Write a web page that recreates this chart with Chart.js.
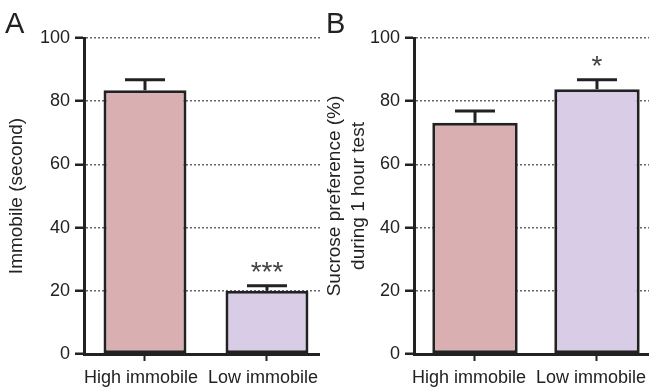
<!DOCTYPE html>
<html lang="en">
<head>
    <meta charset="UTF-8">
    <title>Immobile time and sucrose preference</title>
    <script src="https://cdn.jsdelivr.net/npm/chart.js"></script>
    <style>
        html, body { margin: 0; padding: 0; background: #fff; }
        body { width: 649px; height: 392px; overflow: hidden; position: relative;
               font-family: 'Liberation Sans', Arial, sans-serif; }
        .panel { position: absolute; top: 0; height: 392px; background: #fff; }
        .letter { position: absolute; top: 7px; font-size: 29px; color: #222; }
    </style>
</head>
<body>
    <!-- Panel A -->
    <div class="panel" id="panelA" style="left:0; width:328px;">
        <canvas id="chartA" width="328" height="392"></canvas>
    </div>
    <!-- Panel B, drawn over the right end of A -->
    <div class="panel" id="panelB" style="left:320px; width:338px;">
        <canvas id="chartB" width="338" height="392"></canvas>
    </div>
    <div class="letter" style="left:5px;">A</div>
    <div class="letter" style="left:326px;">B</div>

    <script>
        // data
        const categories = ['High immobile', 'Low immobile'];
        const yTicks = [0, 20, 40, 60, 80, 100];
        const barColors = ['#d9afb1', '#d9cce6'];

        const immobileMeans = [83.5, 20.0];
        const immobileSem = [3.3, 1.6];
        const immobileStars = ['', '***'];

        const sucroseMeans = [73.2, 83.8];
        const sucroseSem = [3.7, 3.0];
        const sucroseStars = ['', '*'];

        const ink = '#222';
        const font = 'Liberation Sans';

        // upward SEM bars + significance stars
        const errorBars = {
            id: 'errorBars',
            afterDatasetsDraw(chart, args, opts) {
                const ctx = chart.ctx;
                const x = chart.scales.x, y = chart.scales.y;
                const means = chart.data.datasets[0].data;
                ctx.save();
                ctx.strokeStyle = ink;
                ctx.lineWidth = 3;
                means.forEach((m, i) => {
                    const px = x.getPixelForValue(i);
                    const top = y.getPixelForValue(m);
                    const cap = y.getPixelForValue(m + opts.sem[i]);
                    ctx.beginPath();
                    ctx.moveTo(px, top);
                    ctx.lineTo(px, cap);
                    ctx.moveTo(px - 20, cap);
                    ctx.lineTo(px + 20, cap);
                    ctx.stroke();
                    if (opts.stars[i]) {
                        ctx.fillStyle = '#444';
                        ctx.font = '28px ' + font;
                        ctx.textAlign = 'center';
                        ctx.textBaseline = 'alphabetic';
                        ctx.fillText(opts.stars[i], px, cap - 5);
                    }
                });
                ctx.restore();
            }
        };

        function makeChart(id, means, sem, stars, title, axisX, barPct, labelShift, titlePad) {
            return new Chart(document.getElementById(id), {
                type: 'bar',
                data: {
                    labels: categories,
                    datasets: [{
                        data: means,
                        backgroundColor: barColors,
                        borderColor: ink,
                        borderWidth: 3,
                        borderSkipped: false,
                        barPercentage: barPct,
                        categoryPercentage: 1
                    }]
                },
                options: {
                    responsive: false,
                    animation: false,
                    devicePixelRatio: 1,
                    layout: { padding: { top: 38, right: 0, left: 0, bottom: 0 } },
                    plugins: {
                        legend: { display: false },
                        tooltip: { enabled: false },
                        errorBars: { sem: sem, stars: stars }
                    },
                    scales: {
                        x: {
                            afterFit(s) { s.height = 38; },
                            grid: {
                                display: true, drawOnChartArea: false, offset: false,
                                tickLength: 7, tickColor: ink, tickWidth: 2
                            },
                            border: { color: ink, width: 3 },
                            ticks: {
                                color: ink, padding: 6, labelOffset: labelShift,
                                font: { family: font, size: 18 }
                            }
                        },
                        y: {
                            min: 0, max: 100,
                            afterFit(s) { s.width = axisX; },
                            afterBuildTicks(s) { s.ticks = yTicks.map(v => ({ value: v })); },
                            grid: {
                                color: '#666', lineWidth: 1.5,
                                tickLength: 9, tickColor: ink, tickWidth: 2.5
                            },
                            border: { color: ink, width: 3, dash: [2, 2] },
                            ticks: { color: ink, padding: 5, font: { family: font, size: 18 } },
                            title: {
                                display: true, text: title, color: ink,
                                padding: { top: titlePad, bottom: 0 },
                                font: { family: font, size: 19, lineHeight: 1.3 }
                            }
                        }
                    }
                },
                plugins: [errorBars]
            });
        }

        makeChart('chartA', immobileMeans, immobileSem, immobileStars,
            'Immobile (second)', 84, 0.68, -4, 4);
        makeChart('chartB', sucroseMeans, sucroseSem, sucroseStars,
            ['Sucrose preference (%)', 'during 1 hour test'], 94, 0.7, -6, 2);
    </script>
</body>
</html>
